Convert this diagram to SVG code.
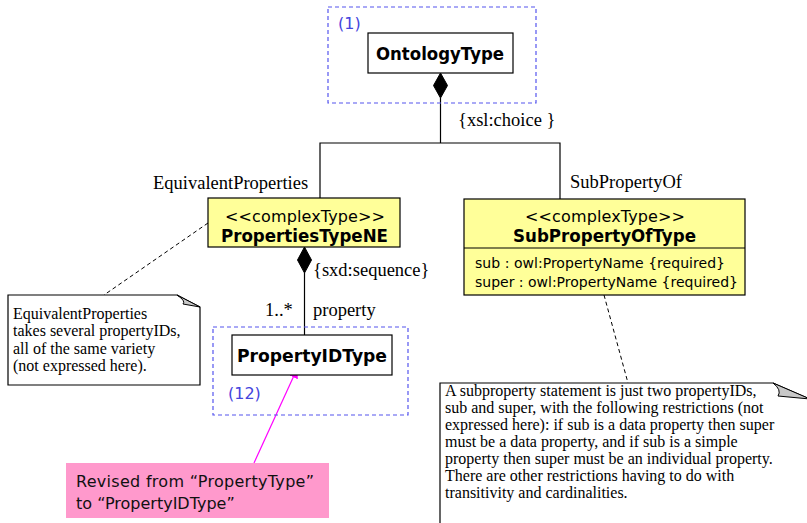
<svg xmlns="http://www.w3.org/2000/svg" width="807" height="523" viewBox="0 0 807 523">
<style>
.bg{fill:#fff}
.box{fill:#fff;stroke:#000;stroke-width:1.2}
.ybox{fill:#ffff99;stroke:#000;stroke-width:1.2}
.grp{fill:none;stroke:#5555ee;stroke-width:1.2;stroke-dasharray:4,3}
.ln{fill:none;stroke:#000;stroke-width:1.2}
.dash{fill:none;stroke:#000;stroke-width:1;stroke-dasharray:4,3}
.dia{fill:#000;stroke:#000}
.note{fill:#fff;stroke:#000;stroke-width:1.2}
.flap{fill:#c8c8c8;stroke:#000;stroke-width:1}
.b{font-family:"DejaVu Sans",Verdana,sans-serif;font-weight:bold;font-size:18px;fill:#000}
.s{font-family:"DejaVu Sans",Verdana,sans-serif;font-size:16px;fill:#000}
.a{font-family:"DejaVu Sans",Verdana,sans-serif;font-size:14px;fill:#000}
.r{font-family:"Liberation Serif","Times New Roman",serif;font-size:18.5px;fill:#000}
.n{font-family:"Liberation Serif","Times New Roman",serif;font-size:16px;fill:#000}
.blue{font-family:"DejaVu Sans",Verdana,sans-serif;font-size:16px;fill:#4444dd}
.pk{font-family:"DejaVu Sans",Verdana,sans-serif;font-size:16px;fill:#111}
</style>
<defs>
<marker id="mh" viewBox="0 0 10 10" refX="9" refY="5" markerWidth="10" markerHeight="10" markerUnits="userSpaceOnUse" orient="auto">
<path d="M0,0 L10,5 L0,10 z" fill="#ff00ff"/>
</marker>
</defs>
<rect class="bg" x="0" y="0" width="807" height="523"/>

<g id="connectors">
<polyline class="ln" points="440.5,98 440.5,143"/>
<polyline class="ln" points="320,198 320,143 560,143 560,199"/>
<polyline class="ln" points="304.5,273 304.5,335"/>
<line class="dash" x1="208" y1="223" x2="104" y2="295"/>
<line class="dash" x1="604" y1="295" x2="628" y2="383"/>
<line x1="254" y1="463" x2="297" y2="369" stroke="#ff00ff" stroke-width="1.2" marker-end="url(#mh)"/>
<text class="r" x="458" y="126">{xsl:choice }</text>
<text class="r" x="153" y="189">EquivalentProperties</text>
<text class="r" x="570" y="188">SubPropertyOf</text>
<text class="r" x="313" y="276">{sxd:sequence}</text>
<text class="r" x="265" y="316">1..*</text>
<text class="r" x="313" y="316">property</text>
</g>

<g id="group1">
<rect class="grp" x="328" y="7" width="208" height="96"/>
<text class="blue" x="338" y="29">(1)</text>
</g>

<g id="OntologyType">
<rect class="box" x="368" y="33" width="145" height="40"/>
<text class="b" x="376" y="60" textLength="128" lengthAdjust="spacingAndGlyphs">OntologyType</text>
<polygon class="dia" points="440.5,73 447.5,85.5 440.5,98 433.5,85.5"/>
</g>

<g id="PropertiesTypeNE">
<rect class="ybox" x="208" y="198" width="192" height="49"/>
<text class="s" x="225" y="222" textLength="160">&lt;&lt;complexType&gt;&gt;</text>
<text class="b" x="221" y="242" textLength="167" lengthAdjust="spacingAndGlyphs">PropertiesTypeNE</text>
<polygon class="dia" points="304.5,247 311.5,260 304.5,273 297.5,260"/>
</g>

<g id="SubPropertyOfType">
<rect class="ybox" x="464" y="199" width="281" height="96"/>
<line class="ln" x1="464" y1="248" x2="745" y2="248"/>
<text class="s" x="525" y="222" textLength="160">&lt;&lt;complexType&gt;&gt;</text>
<text class="b" x="513" y="242" textLength="183" lengthAdjust="spacingAndGlyphs">SubPropertyOfType</text>
<text class="a" x="475" y="268" textLength="250">sub : owl:PropertyName {required}</text>
<text class="a" x="475" y="287" textLength="263">super : owl:PropertyName {required}</text>
</g>

<g id="group12">
<rect class="grp" x="213" y="327" width="195" height="88"/>
<text class="blue" x="228" y="399">(12)</text>
</g>

<g id="PropertyIDType">
<rect class="box" x="232" y="335" width="160" height="40"/>
<text class="b" x="237" y="362" textLength="150" lengthAdjust="spacingAndGlyphs">PropertyIDType</text>
</g>

<g id="note1">
<path class="note" d="M8,295 L177,295 L200,307 L200,385 L8,385 Z"/>
<path class="flap" d="M177,295 Q186,301 183,304 L200,307 Z"/>
<text class="n" x="13" y="319">EquivalentProperties</text>
<text class="n" x="13" y="336">takes several propertyIDs,</text>
<text class="n" x="13" y="354">all of the same variety</text>
<text class="n" x="13" y="371">(not expressed here).</text>
</g>

<g id="note2">
<path class="note" d="M440,530 L440,383 L773,383 L812,400 L812,530"/>
<path class="flap" d="M773,383 Q782,390 778,396 L810,399 Z"/>
<text class="n" x="445" y="396">A subproperty statement is just two propertyIDs,</text>
<text class="n" x="445" y="413">sub and super, with the following restrictions (not</text>
<text class="n" x="445" y="430">expressed here): if sub is a data property then super</text>
<text class="n" x="445" y="447">must be a data property, and if sub is a simple</text>
<text class="n" x="445" y="464">property then super must be an individual property.</text>
<text class="n" x="445" y="481">There are other restrictions having to do with</text>
<text class="n" x="445" y="498">transitivity and cardinalities.</text>
</g>

<g id="revisionNote">
<rect x="66" y="463" width="263" height="55" fill="#ff99cc"/>
<text class="pk" x="76" y="487" textLength="238">Revised from “PropertyType”</text>
<text class="pk" x="76" y="509">to “PropertyIDType”</text>
</g>
</svg>
